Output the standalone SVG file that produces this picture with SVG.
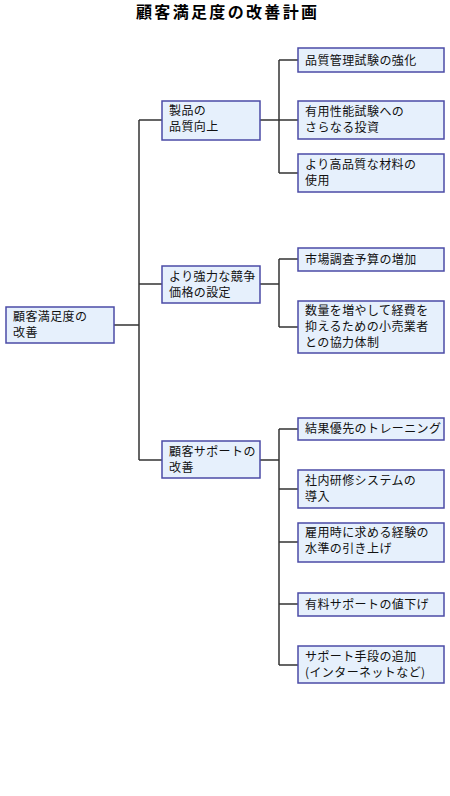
<svg xmlns="http://www.w3.org/2000/svg" width="450" height="796" viewBox="0 0 450 796">
<style>
.box{fill:#E6F0FC;stroke:#4B4BA6;stroke-width:1.5}
.t{font-family:"Noto Sans CJK JP","Noto Sans CJK SC",sans-serif;font-size:12px;fill:#111;letter-spacing:0.4px}
.title{font-family:"Noto Sans CJK JP","Noto Sans CJK SC",sans-serif;font-size:16px;font-weight:bold;fill:#000}
.c{fill:none;stroke:#333;stroke-width:1.5}
</style>
<rect width="450" height="796" fill="#fff"/>
<text class="title" x="136" y="18" textLength="181" lengthAdjust="spacing">顧客満足度の改善計画</text>
<g id="connectors">
<path class="c" d="M114,325H139M139,120V460M139,120H162M139,284H162M139,460H162"/>
<path class="c" d="M260,120H279M279,60V173M279,60H298M279,120H298M279,173H298"/>
<path class="c" d="M260,284H279M279,259V327M279,259H298M279,327H298"/>
<path class="c" d="M260,460H279M279,429V665M279,429H298M279,489H298M279,542H298M279,604H298M279,665H298"/>
</g>
<g id="root"><rect class="box" x="6" y="307" width="108" height="36"/><text class="t" x="13" y="321">顧客満足度の</text><text class="t" x="13" y="337">改善</text></g>
<g id="n1"><rect class="box" x="162" y="101" width="98" height="39"/><text class="t" x="169" y="115">製品の</text><text class="t" x="169" y="131">品質向上</text></g>
<g id="n2"><rect class="box" x="162" y="266" width="98" height="37"/><text class="t" x="169" y="281">より強力な競争</text><text class="t" x="169" y="297">価格の設定</text></g>
<g id="n3"><rect class="box" x="162" y="441" width="98" height="37"/><text class="t" x="169" y="456">顧客サポートの</text><text class="t" x="169" y="472">改善</text></g>
<g id="c11"><rect class="box" x="298" y="48" width="146" height="24"/><text class="t" x="305" y="64.5">品質管理試験の強化</text></g>
<g id="c12"><rect class="box" x="298" y="101" width="146" height="38"/><text class="t" x="305" y="116">有用性能試験への</text><text class="t" x="305" y="132">さらなる投資</text></g>
<g id="c13"><rect class="box" x="298" y="154" width="146" height="38"/><text class="t" x="305" y="169">より高品質な材料の</text><text class="t" x="305" y="185">使用</text></g>
<g id="c21"><rect class="box" x="298" y="248" width="146" height="23"/><text class="t" x="305" y="264">市場調査予算の増加</text></g>
<g id="c22"><rect class="box" x="298" y="301" width="146" height="52"/><text class="t" x="305" y="315">数量を増やして経費を</text><text class="t" x="305" y="331">抑えるための小売業者</text><text class="t" x="305" y="347">との協力体制</text></g>
<g id="c31"><rect class="box" x="298" y="418" width="146" height="22"/><text class="t" x="305" y="433">結果優先のトレーニング</text></g>
<g id="c32"><rect class="box" x="298" y="470" width="146" height="38"/><text class="t" x="305" y="485">社内研修システムの</text><text class="t" x="305" y="501">導入</text></g>
<g id="c33"><rect class="box" x="298" y="523" width="146" height="39"/><text class="t" x="305" y="537">雇用時に求める経験の</text><text class="t" x="305" y="553">水準の引き上げ</text></g>
<g id="c34"><rect class="box" x="298" y="593" width="146" height="23"/><text class="t" x="305" y="609">有料サポートの値下げ</text></g>
<g id="c35"><rect class="box" x="298" y="646" width="146" height="37"/><text class="t" x="305" y="661">サポート手段の追加</text><text class="t" x="305" y="677">(インターネットなど)</text></g>
</svg>
